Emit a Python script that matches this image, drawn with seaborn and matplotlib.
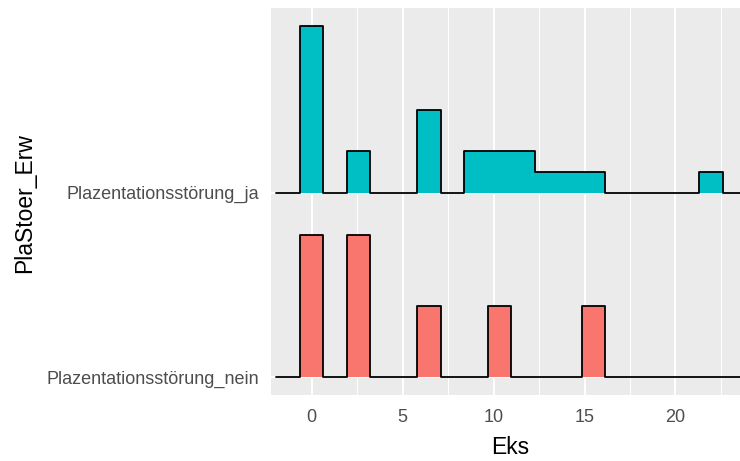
import numpy as np
import pandas as pd
import matplotlib
matplotlib.use("Agg")
import matplotlib.pyplot as plt
import seaborn as sns

# ---- data ----
categories = ["Plazentationsstörung_nein", "Plazentationsstörung_ja"]
bin_width = 1.292
n_bins = 30                      # ggplot default bins (centres 0 .. 29*width)
ja_bins = [0, 2, 5, 7, 8, 9, 10, 11, 12, 17]
ja_counts = [8, 2, 4, 2, 2, 2, 1, 1, 1, 1]
nein_bins = [0, 2, 5, 8, 12]
nein_counts = [2, 2, 1, 1, 1]
colors = {"Plazentationsstörung_ja": "#00BFC4", "Plazentationsstörung_nein": "#F8766D"}
x_ticks = [0, 5, 10, 15, 20]
ridge_scale = 0.9

sns.set_theme(style="darkgrid")
plt.rcParams["font.family"] = ["Liberation Sans", "DejaVu Sans"]

groups = {
    "Plazentationsstörung_nein": (nein_bins, nein_counts),
    "Plazentationsstörung_ja": (ja_bins, ja_counts),
}

# densities (count / (n * width)), then scaled by overall max
dens = {}
for g, (b, c) in groups.items():
    arr = np.zeros(n_bins + 2)          # pad bins on both ends
    n = sum(c)
    for bi, ci in zip(b, c):
        arr[bi + 1] = ci / (n * bin_width)
    dens[g] = arr
gmax = max(d.max() for d in dens.values())

fig = plt.figure(figsize=(7.4, 4.61), dpi=100)
ax = fig.add_axes([271 / 740, 66 / 461, 1 - 271 / 740, (395 - 8) / 461])
ax.set_facecolor("#EBEBEB")
fig.patch.set_facecolor("white")

idx = np.arange(-1, n_bins + 1)
edges = (np.append(idx, n_bins + 1) - 0.5) * bin_width

for pos, g in enumerate(categories, start=1):
    h = dens[g] / gmax * ridge_scale
    ys = np.append(h, h[-1]) + pos
    ax.fill_between(edges, pos, ys, step="post", color=colors[g], linewidth=0, zorder=2)
    df = pd.DataFrame({"x": edges, "y": ys})
    sns.lineplot(data=df, x="x", y="y", drawstyle="steps-post", color="black",
                 linewidth=1.3, ax=ax, zorder=3, sort=False)

ax.set_xlim(-2.24, 23.55)
ax.set_ylim(0.904, 3.0)
ax.set_xticks(x_ticks)
ax.set_xticks([2.5, 7.5, 12.5, 17.5, 22.5], minor=True)
ax.set_yticks([1, 2])
ax.set_yticklabels(categories)
ax.grid(which="major", color="white", linewidth=1.4, zorder=0)
ax.grid(which="minor", axis="x", color="white", linewidth=0.7, zorder=0)
ax.set_axisbelow(True)
for s in ax.spines.values():
    s.set_visible(False)

ax.tick_params(axis="both", which="major", length=2.75, width=0.8, color="#333333",
               labelsize=13, labelcolor="#4D4D4D")
ax.tick_params(axis="x", pad=7.6)
ax.tick_params(axis="y", pad=5.5)
ax.tick_params(axis="both", which="minor", length=0)

ax.set_xlabel("Eks", fontsize=16.5, color="black")
ax.set_ylabel("PlaStoer_Erw", fontsize=16.5, color="black")
ax.xaxis.set_label_coords((510.5 - 271) / (740 - 271), -(447 - 395) / 387)
ax.yaxis.set_label_coords(-(271 - 25) / (740 - 271), 0.5 - 2 / 387)
ax.xaxis.label.set_va("center")
ax.yaxis.label.set_va("center")

fig.savefig("out.png", dpi=100)
